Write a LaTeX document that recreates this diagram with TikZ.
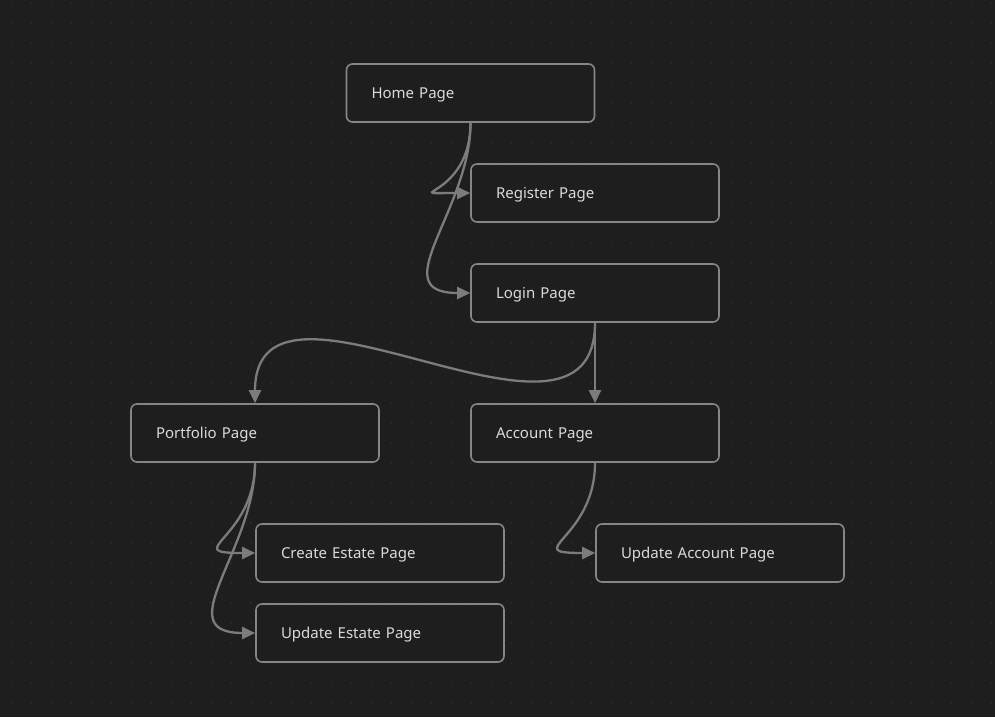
\documentclass[tikz,border=0pt]{standalone}
\usepackage{fontspec}
\setmainfont{Noto Sans}
\usetikzlibrary{arrows.meta}
\definecolor{bg}{HTML}{1E1E1E}
\definecolor{gridc}{HTML}{303030}
\definecolor{boxc}{HTML}{868686}
\definecolor{edgec}{HTML}{7C7C7C}
\definecolor{txtc}{HTML}{DADADA}
\tikzset{
  pagebox/.style={draw=boxc, line width=1.6pt, fill=bg, rounded corners=6pt,
    text width=198pt, inner xsep=25pt, minimum height=58pt, align=left,
    text height=11pt, text depth=-2pt,
    text=txtc, font=\fontsize{15}{18}\selectfont},
  link/.style={draw=edgec, line width=2.3pt, -{Triangle[length=13pt,width=12pt]}}
}
\begin{document}
\begin{tikzpicture}[x=1pt,y=-1pt]
\fill[bg] (0,0) rectangle (995,717);
\useasboundingbox (0,0) rectangle (995,717);
\foreach \i in {0,...,49}{
  \foreach \j in {0,...,35}{
    \fill[gridc] (11+20*\i,3+20*\j) circle (0.9pt);
  }
}
\node[pagebox] (home) at (470.5,93) {Home Page};
\node[pagebox] (reg) at (595,193) {Register Page};
\node[pagebox] (login) at (595,293) {Login Page};
\node[pagebox] (port) at (255,433) {Portfolio Page};
\node[pagebox] (acct) at (595,433) {Account Page};
\node[pagebox] (create) at (380,553) {Create Estate Page};
\node[pagebox] (upest) at (380,633) {Update Estate Page};
\node[pagebox] (upacc) at (720,553) {Update Account Page};

\draw[link] (home.south) .. controls +(0,77) and +(-77,0) .. (reg.west);
\draw[link] (home.south) .. controls +(0,88) and +(-88,0) .. (login.west);
\draw[link] (login.south) .. controls +(0,164) and +(0,-164) .. (port.north);
\draw[link] (login.south) -- (acct.north);
\draw[link] (port.south) .. controls +(0,77) and +(-77,0) .. (create.west);
\draw[link] (port.south) .. controls +(0,88) and +(-88,0) .. (upest.west);
\draw[link] (acct.south) .. controls +(0,77) and +(-77,0) .. (upacc.west);
\end{tikzpicture}
\end{document}
